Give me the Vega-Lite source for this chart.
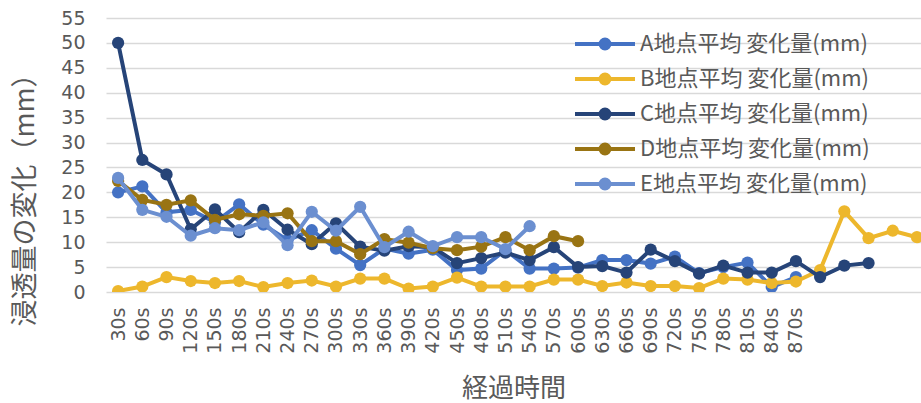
{
  "$schema": "https://vega.github.io/schema/vega-lite/v6.json",
  "width": 815,
  "height": 274,
  "autosize": {"type": "none"},
  "padding": {"left": 106, "top": 18, "right": 0, "bottom": 111},
  "background": "white",
  "config": {
    "view": {"stroke": null},
    "font": "Noto Sans CJK JP",
    "axis": {"labelColor": "#595959", "titleColor": "#595959", "labelFont": "DejaVu Sans", "titleFont": "Noto Sans CJK JP", "titleFontWeight": "normal"},
    "legend": {"labelFont": "Noto Sans CJK JP", "labelColor": "#595959"}
  },
  "data": {"values": [
    {"series": "A地点平均 変化量(mm)", "sec": 30, "v": 20.0},
    {"series": "A地点平均 変化量(mm)", "sec": 60, "v": 21.2},
    {"series": "A地点平均 変化量(mm)", "sec": 90, "v": 16.0},
    {"series": "A地点平均 変化量(mm)", "sec": 120, "v": 16.5},
    {"series": "A地点平均 変化量(mm)", "sec": 150, "v": 14.0},
    {"series": "A地点平均 変化量(mm)", "sec": 180, "v": 17.6},
    {"series": "A地点平均 変化量(mm)", "sec": 210, "v": 13.5},
    {"series": "A地点平均 変化量(mm)", "sec": 240, "v": 10.4},
    {"series": "A地点平均 変化量(mm)", "sec": 270, "v": 12.4},
    {"series": "A地点平均 変化量(mm)", "sec": 300, "v": 8.7},
    {"series": "A地点平均 変化量(mm)", "sec": 330, "v": 5.4},
    {"series": "A地点平均 変化量(mm)", "sec": 360, "v": 8.7},
    {"series": "A地点平均 変化量(mm)", "sec": 390, "v": 7.7},
    {"series": "A地点平均 変化量(mm)", "sec": 420, "v": 8.5},
    {"series": "A地点平均 変化量(mm)", "sec": 450, "v": 4.4},
    {"series": "A地点平均 変化量(mm)", "sec": 480, "v": 4.7},
    {"series": "A地点平均 変化量(mm)", "sec": 510, "v": 8.4},
    {"series": "A地点平均 変化量(mm)", "sec": 540, "v": 4.7},
    {"series": "A地点平均 変化量(mm)", "sec": 570, "v": 4.7},
    {"series": "A地点平均 変化量(mm)", "sec": 600, "v": 4.9},
    {"series": "A地点平均 変化量(mm)", "sec": 630, "v": 6.4},
    {"series": "A地点平均 変化量(mm)", "sec": 660, "v": 6.4},
    {"series": "A地点平均 変化量(mm)", "sec": 690, "v": 5.7},
    {"series": "A地点平均 変化量(mm)", "sec": 720, "v": 7.1},
    {"series": "A地点平均 変化量(mm)", "sec": 750, "v": 3.8},
    {"series": "A地点平均 変化量(mm)", "sec": 780, "v": 5.0},
    {"series": "A地点平均 変化量(mm)", "sec": 810, "v": 5.9},
    {"series": "A地点平均 変化量(mm)", "sec": 840, "v": 1.0},
    {"series": "A地点平均 変化量(mm)", "sec": 870, "v": 3.0},
    {"series": "B地点平均 変化量(mm)", "sec": 30, "v": 0.2},
    {"series": "B地点平均 変化量(mm)", "sec": 60, "v": 1.1},
    {"series": "B地点平均 変化量(mm)", "sec": 90, "v": 3.0},
    {"series": "B地点平均 変化量(mm)", "sec": 120, "v": 2.2},
    {"series": "B地点平均 変化量(mm)", "sec": 150, "v": 1.8},
    {"series": "B地点平均 変化量(mm)", "sec": 180, "v": 2.2},
    {"series": "B地点平均 変化量(mm)", "sec": 210, "v": 1.0},
    {"series": "B地点平均 変化量(mm)", "sec": 240, "v": 1.8},
    {"series": "B地点平均 変化量(mm)", "sec": 270, "v": 2.3},
    {"series": "B地点平均 変化量(mm)", "sec": 300, "v": 1.1},
    {"series": "B地点平均 変化量(mm)", "sec": 330, "v": 2.7},
    {"series": "B地点平均 変化量(mm)", "sec": 360, "v": 2.7},
    {"series": "B地点平均 変化量(mm)", "sec": 390, "v": 0.7},
    {"series": "B地点平均 変化量(mm)", "sec": 420, "v": 1.1},
    {"series": "B地点平均 変化量(mm)", "sec": 450, "v": 2.9},
    {"series": "B地点平均 変化量(mm)", "sec": 480, "v": 1.1},
    {"series": "B地点平均 変化量(mm)", "sec": 510, "v": 1.1},
    {"series": "B地点平均 変化量(mm)", "sec": 540, "v": 1.1},
    {"series": "B地点平均 変化量(mm)", "sec": 570, "v": 2.5},
    {"series": "B地点平均 変化量(mm)", "sec": 600, "v": 2.5},
    {"series": "B地点平均 変化量(mm)", "sec": 630, "v": 1.2},
    {"series": "B地点平均 変化量(mm)", "sec": 660, "v": 1.9},
    {"series": "B地点平均 変化量(mm)", "sec": 690, "v": 1.2},
    {"series": "B地点平均 変化量(mm)", "sec": 720, "v": 1.2},
    {"series": "B地点平均 変化量(mm)", "sec": 750, "v": 0.8},
    {"series": "B地点平均 変化量(mm)", "sec": 780, "v": 2.7},
    {"series": "B地点平均 変化量(mm)", "sec": 810, "v": 2.5},
    {"series": "B地点平均 変化量(mm)", "sec": 840, "v": 1.8},
    {"series": "B地点平均 変化量(mm)", "sec": 870, "v": 2.1},
    {"series": "B地点平均 変化量(mm)", "sec": 900, "v": 4.4},
    {"series": "B地点平均 変化量(mm)", "sec": 930, "v": 16.2},
    {"series": "B地点平均 変化量(mm)", "sec": 960, "v": 10.8},
    {"series": "B地点平均 変化量(mm)", "sec": 990, "v": 12.3},
    {"series": "B地点平均 変化量(mm)", "sec": 1020, "v": 11.0},
    {"series": "C地点平均 変化量(mm)", "sec": 30, "v": 50.0},
    {"series": "C地点平均 変化量(mm)", "sec": 60, "v": 26.5},
    {"series": "C地点平均 変化量(mm)", "sec": 90, "v": 23.6},
    {"series": "C地点平均 変化量(mm)", "sec": 120, "v": 12.6},
    {"series": "C地点平均 変化量(mm)", "sec": 150, "v": 16.6},
    {"series": "C地点平均 変化量(mm)", "sec": 180, "v": 12.0},
    {"series": "C地点平均 変化量(mm)", "sec": 210, "v": 16.5},
    {"series": "C地点平均 変化量(mm)", "sec": 240, "v": 12.5},
    {"series": "C地点平均 変化量(mm)", "sec": 270, "v": 9.6},
    {"series": "C地点平均 変化量(mm)", "sec": 300, "v": 13.8},
    {"series": "C地点平均 変化量(mm)", "sec": 330, "v": 9.1},
    {"series": "C地点平均 変化量(mm)", "sec": 360, "v": 8.3},
    {"series": "C地点平均 変化量(mm)", "sec": 390, "v": 9.2},
    {"series": "C地点平均 変化量(mm)", "sec": 420, "v": 9.0},
    {"series": "C地点平均 変化量(mm)", "sec": 450, "v": 5.8},
    {"series": "C地点平均 変化量(mm)", "sec": 480, "v": 6.8},
    {"series": "C地点平均 変化量(mm)", "sec": 510, "v": 7.9},
    {"series": "C地点平均 変化量(mm)", "sec": 540, "v": 6.4},
    {"series": "C地点平均 変化量(mm)", "sec": 570, "v": 9.0},
    {"series": "C地点平均 変化量(mm)", "sec": 600, "v": 5.0},
    {"series": "C地点平均 変化量(mm)", "sec": 630, "v": 5.2},
    {"series": "C地点平均 変化量(mm)", "sec": 660, "v": 3.9},
    {"series": "C地点平均 変化量(mm)", "sec": 690, "v": 8.5},
    {"series": "C地点平均 変化量(mm)", "sec": 720, "v": 6.2},
    {"series": "C地点平均 変化量(mm)", "sec": 750, "v": 3.7},
    {"series": "C地点平均 変化量(mm)", "sec": 780, "v": 5.3},
    {"series": "C地点平均 変化量(mm)", "sec": 810, "v": 3.9},
    {"series": "C地点平均 変化量(mm)", "sec": 840, "v": 3.9},
    {"series": "C地点平均 変化量(mm)", "sec": 870, "v": 6.2},
    {"series": "C地点平均 変化量(mm)", "sec": 900, "v": 3.0},
    {"series": "C地点平均 変化量(mm)", "sec": 930, "v": 5.3},
    {"series": "C地点平均 変化量(mm)", "sec": 960, "v": 5.8},
    {"series": "D地点平均 変化量(mm)", "sec": 30, "v": 22.3},
    {"series": "D地点平均 変化量(mm)", "sec": 60, "v": 18.5},
    {"series": "D地点平均 変化量(mm)", "sec": 90, "v": 17.5},
    {"series": "D地点平均 変化量(mm)", "sec": 120, "v": 18.4},
    {"series": "D地点平均 変化量(mm)", "sec": 150, "v": 14.5},
    {"series": "D地点平均 変化量(mm)", "sec": 180, "v": 15.6},
    {"series": "D地点平均 変化量(mm)", "sec": 210, "v": 15.3},
    {"series": "D地点平均 変化量(mm)", "sec": 240, "v": 15.8},
    {"series": "D地点平均 変化量(mm)", "sec": 270, "v": 10.2},
    {"series": "D地点平均 変化量(mm)", "sec": 300, "v": 10.2},
    {"series": "D地点平均 変化量(mm)", "sec": 330, "v": 7.6},
    {"series": "D地点平均 変化量(mm)", "sec": 360, "v": 10.6},
    {"series": "D地点平均 変化量(mm)", "sec": 390, "v": 9.9},
    {"series": "D地点平均 変化量(mm)", "sec": 420, "v": 8.8},
    {"series": "D地点平均 変化量(mm)", "sec": 450, "v": 8.4},
    {"series": "D地点平均 変化量(mm)", "sec": 480, "v": 9.1},
    {"series": "D地点平均 変化量(mm)", "sec": 510, "v": 11.0},
    {"series": "D地点平均 変化量(mm)", "sec": 540, "v": 8.4},
    {"series": "D地点平均 変化量(mm)", "sec": 570, "v": 11.2},
    {"series": "D地点平均 変化量(mm)", "sec": 600, "v": 10.2},
    {"series": "E地点平均 変化量(mm)", "sec": 30, "v": 22.9},
    {"series": "E地点平均 変化量(mm)", "sec": 60, "v": 16.5},
    {"series": "E地点平均 変化量(mm)", "sec": 90, "v": 15.1},
    {"series": "E地点平均 変化量(mm)", "sec": 120, "v": 11.3},
    {"series": "E地点平均 変化量(mm)", "sec": 150, "v": 12.8},
    {"series": "E地点平均 変化量(mm)", "sec": 180, "v": 12.4},
    {"series": "E地点平均 変化量(mm)", "sec": 210, "v": 14.0},
    {"series": "E地点平均 変化量(mm)", "sec": 240, "v": 9.4},
    {"series": "E地点平均 変化量(mm)", "sec": 270, "v": 16.1},
    {"series": "E地点平均 変化量(mm)", "sec": 300, "v": 12.3},
    {"series": "E地点平均 変化量(mm)", "sec": 330, "v": 17.1},
    {"series": "E地点平均 変化量(mm)", "sec": 360, "v": 9.0},
    {"series": "E地点平均 変化量(mm)", "sec": 390, "v": 12.1},
    {"series": "E地点平均 変化量(mm)", "sec": 420, "v": 9.2},
    {"series": "E地点平均 変化量(mm)", "sec": 450, "v": 11.0},
    {"series": "E地点平均 変化量(mm)", "sec": 480, "v": 11.0},
    {"series": "E地点平均 変化量(mm)", "sec": 510, "v": 8.6},
    {"series": "E地点平均 変化量(mm)", "sec": 540, "v": 13.2}
  ]},
  "encoding": {
    "x": {
      "field": "sec", "type": "quantitative",
      "scale": {"domain": [15, 1025], "nice": false, "zero": false},
      "axis": {
        "values": [30, 60, 90, 120, 150, 180, 210, 240, 270, 300, 330, 360, 390, 420, 450, 480, 510, 540, 570, 600, 630, 660, 690, 720, 750, 780, 810, 840, 870],
        "labelExpr": "datum.value + 's'",
        "labelAngle": 270, "labelFontSize": 19, "labelPadding": 15,
        "ticks": false, "domain": false, "grid": false,
        "title": "経過時間", "titleFontSize": 26, "titlePadding": 22
      }
    },
    "y": {
      "field": "v", "type": "quantitative",
      "scale": {"domain": [0, 55], "nice": false},
      "axis": {
        "values": [0, 5, 10, 15, 20, 25, 30, 35, 40, 45, 50, 55],
        "labelFontSize": 19, "labelPadding": 21,
        "ticks": false, "domain": false,
        "grid": true, "gridColor": "#d9d9d9", "gridWidth": 1.5,
        "title": "浸透量の変化（mm）", "titleFontSize": 27,
        "titleX": -81, "titleY": 175, "titleAlign": "center", "titleBaseline": "middle", "titleAngle": 270
      }
    },
    "color": {
      "field": "series", "type": "nominal",
      "scale": {
        "domain": ["A地点平均 変化量(mm)", "B地点平均 変化量(mm)", "C地点平均 変化量(mm)", "D地点平均 変化量(mm)", "E地点平均 変化量(mm)"],
        "range": ["#4472C4", "#EDB72C", "#264478", "#997413", "#6B8FD0"]
      },
      "legend": {
        "title": null, "orient": "none", "legendX": 482, "legendY": 9,
        "labelFontSize": 22, "labelLimit": 500, "rowPadding": 5, "padding": 0, "labelOffset": 18,
        "symbolType": "M-2,0H2M0.3,0A0.3,0.3 0 1,1 -0.3,0A0.3,0.3 0 1,1 0.3,0M0.16,0A0.16,0.16 0 1,1 -0.16,0A0.16,0.16 0 1,1 0.16,0",
        "symbolSize": 900, "symbolStrokeWidth": 4
      }
    }
  },
  "layer": [
    {"transform": [{"filter": "datum.series == 'A地点平均 変化量(mm)'"}], "mark": {"type": "line", "strokeWidth": 4, "clip": true, "point": {"filled": true, "size": 150, "opacity": 1}}},
    {"transform": [{"filter": "datum.series == 'B地点平均 変化量(mm)'"}], "mark": {"type": "line", "strokeWidth": 4, "clip": true, "point": {"filled": true, "size": 150, "opacity": 1}}},
    {"transform": [{"filter": "datum.series == 'C地点平均 変化量(mm)'"}], "mark": {"type": "line", "strokeWidth": 4, "clip": true, "point": {"filled": true, "size": 150, "opacity": 1}}},
    {"transform": [{"filter": "datum.series == 'D地点平均 変化量(mm)'"}], "mark": {"type": "line", "strokeWidth": 4, "clip": true, "point": {"filled": true, "size": 150, "opacity": 1}}},
    {"transform": [{"filter": "datum.series == 'E地点平均 変化量(mm)'"}], "mark": {"type": "line", "strokeWidth": 4, "clip": true, "point": {"filled": true, "size": 150, "opacity": 1}}}
  ]
}
